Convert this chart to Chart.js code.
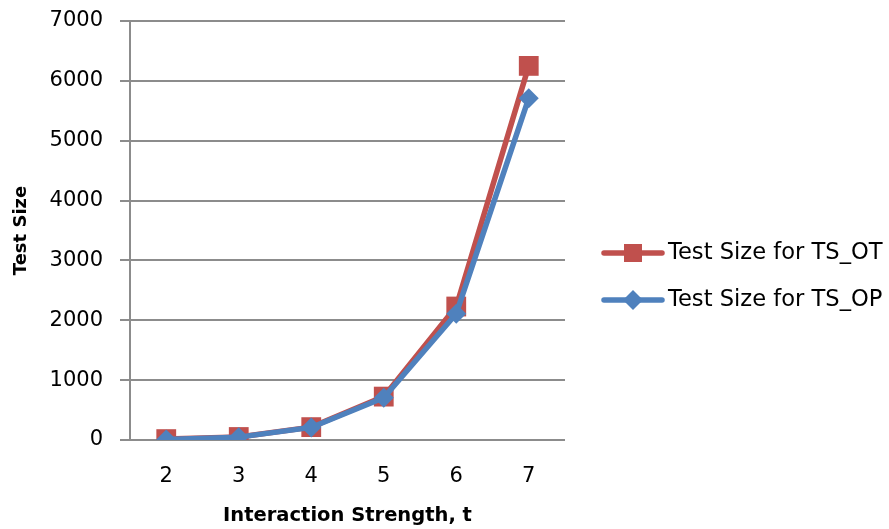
<!DOCTYPE html>
<html>
<head>
<meta charset="utf-8">
<script src="https://cdn.jsdelivr.net/npm/chart.js@4/dist/chart.umd.min.js"></script>
<style>
  html, body { margin: 0; padding: 0; background: #fff; }
  #wrap { width: 889px; height: 529px; }
</style>
</head>
<body>
<div id="wrap"><canvas id="c" width="889" height="529"></canvas></div>
<script>
// Interaction strength t on the x axis
const strengths = ['2', '3', '4', '5', '6', '7'];
// Test sizes for each generation strategy
const sizeOT = [15, 50, 215, 725, 2230, 6250];
const sizeOP = [10, 48, 210, 705, 2110, 5710];
// Y axis ticks
const yTicks = [0, 1000, 2000, 3000, 4000, 5000, 6000, 7000];

const seriesNames = ['Test Size for TS_OT', 'Test Size for TS_OP'];
const RED = '#C0504D';
const BLUE = '#4F81BD';
const GRID = '#8C8C8C';
const FONT = '"DejaVu Sans", sans-serif';

// Legend on the right: a line with the series marker, then the label
const sideLegend = {
  id: 'sideLegend',
  afterDraw(chart) {
    const ctx = chart.ctx;
    const x0 = 604, x1 = 662, tx = 668;
    const rows = [253, 300];
    chart.data.datasets.forEach((ds, i) => {
      const y = rows[i];
      ctx.save();
      ctx.strokeStyle = ds.borderColor;
      ctx.lineWidth = 5.5;
      ctx.lineCap = 'round';
      ctx.beginPath();
      ctx.moveTo(x0, y);
      ctx.lineTo(x1, y);
      ctx.stroke();
      ctx.fillStyle = ds.pointBackgroundColor;
      const cx = (x0 + x1) / 2;
      ctx.beginPath();
      if (ds.pointStyle === 'rect') {
        ctx.rect(cx - 9, y - 9, 18, 18);
      } else {
        ctx.moveTo(cx - 10, y);
        ctx.lineTo(cx, y - 10);
        ctx.lineTo(cx + 10, y);
        ctx.lineTo(cx, y + 10);
        ctx.closePath();
      }
      ctx.fill();
      ctx.fillStyle = '#000';
      ctx.font = '22.6px ' + FONT;
      ctx.textBaseline = 'middle';
      ctx.textAlign = 'left';
      ctx.fillText(ds.label, tx, y);
      ctx.restore();
    });
  }
};

new Chart(document.getElementById('c'), {
  type: 'line',
  data: {
    labels: strengths,
    datasets: [
      {
        label: seriesNames[0],
        data: sizeOT,
        borderColor: RED,
        backgroundColor: RED,
        pointBackgroundColor: RED,
        pointBorderColor: RED,
        pointStyle: 'rect',
        pointRadius: 14,
        pointBorderWidth: 0,
        borderWidth: 5.5,
        order: 1
      },
      {
        label: seriesNames[1],
        data: sizeOP,
        borderColor: BLUE,
        backgroundColor: BLUE,
        pointBackgroundColor: BLUE,
        pointBorderColor: BLUE,
        pointStyle: 'rectRot',
        pointRadius: 10,
        pointBorderWidth: 0,
        borderWidth: 5.5,
        order: 0
      }
    ]
  },
  options: {
    responsive: false,
    animation: false,
    devicePixelRatio: 1,
    layout: { padding: { top: 21, right: 324, bottom: 0, left: 0 } },
    plugins: {
      legend: { display: false },
      tooltip: { enabled: false }
    },
    scales: {
      x: {
        offset: true,
        afterFit(scale) { scale.height = 89; },
        grid: { display: false, drawTicks: false },
        border: { display: false },
        ticks: { color: '#000', font: { family: FONT, size: 21 }, padding: 24 },
        title: {
          display: true,
          text: 'Interaction Strength, t',
          color: '#000',
          font: { family: FONT, size: 19.5, weight: 'bold' },
          padding: { top: 0, bottom: 1 }
        }
      },
      y: {
        min: 0,
        max: 7000,
        afterFit(scale) {
          scale.width = 130;
          scale.paddingTop = 0;
          scale.paddingBottom = 0;
        },
        afterBuildTicks(axis) { axis.ticks = yTicks.map(v => ({ value: v })); },
        grid: { color: GRID, lineWidth: 2, tickLength: 10 },
        border: { display: true, color: GRID, width: 2 },
        ticks: {
          color: '#000',
          font: { family: FONT, size: 21 },
          padding: 17,
          callback: v => String(v)
        },
        title: {
          display: true,
          text: 'Test Size',
          color: '#000',
          font: { family: FONT, size: 18, weight: 'bold' },
          padding: { top: 11, bottom: 0 }
        }
      }
    }
  },
  plugins: [sideLegend]
});
</script>
</body>
</html>
